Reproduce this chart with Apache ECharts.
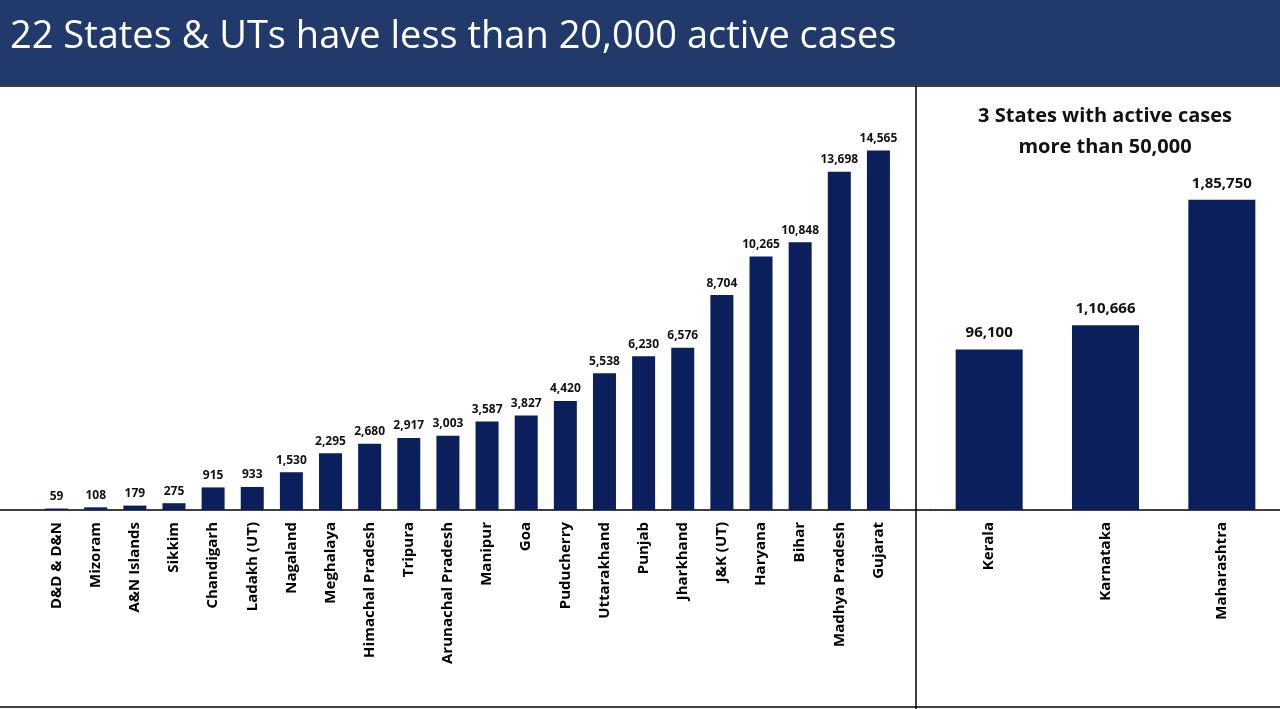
<!DOCTYPE html>
<html>
<head>
<meta charset="utf-8">
<script src="https://cdn.jsdelivr.net/npm/echarts@6/dist/echarts.min.js"></script>
<style>
  html, body { margin: 0; padding: 0; background: #fff; }
  #main { width: 1280px; height: 709px; }
</style>
</head>
<body>
<div id="main"></div>
<script>
const smallStates = ['D&D & D&N', 'Mizoram', 'A&N Islands', 'Sikkim', 'Chandigarh', 'Ladakh (UT)', 'Nagaland',
  'Meghalaya', 'Himachal Pradesh', 'Tripura', 'Arunachal Pradesh', 'Manipur', 'Goa', 'Puducherry',
  'Uttarakhand', 'Punjab', 'Jharkhand', 'J&K (UT)', 'Haryana', 'Bihar', 'Madhya Pradesh', 'Gujarat'];
const smallCases = [59, 108, 179, 275, 915, 933, 1530, 2295, 2680, 2917, 3003, 3587, 3827, 4420,
  5538, 6230, 6576, 8704, 10265, 10848, 13698, 14565];
const bigStates = ['Kerala', 'Karnataka', 'Maharashtra'];
const bigCases = [96100, 110666, 185750];

const navy = '#0b1f5c';
const font = '"Open Sans", "DejaVu Sans", sans-serif';

// Indian digit grouping, e.g. 1,85,750
function inr(v) {
  let s = String(v);
  if (s.length <= 3) return s;
  let last = s.slice(-3), rest = s.slice(0, -3);
  rest = rest.replace(/\B(?=(\d{2})+(?!\d))/g, ',');
  return rest + ',' + last;
}

const catAxis = {
  type: 'category',
  axisLine: { lineStyle: { color: '#000', width: 1.5 } },
  axisTick: { show: false },
  axisLabel: { rotate: 90, color: '#000', fontWeight: 'bold', fontSize: 15, fontFamily: font, margin: 12 }
};

let option = {
  animation: false,
  title: {
    text: '3 States with active cases\nmore than 50,000',
    left: 1100, top: 96, textAlign: 'center',
    textStyle: { fontSize: 20, fontWeight: 'bold', color: '#111', fontFamily: font, lineHeight: 31 }
  },
  grid: [
    { left: 37, width: 861, top: 115, height: 395 },
    { left: 931, width: 354, top: 176, height: 334 }
  ],
  xAxis: [
    Object.assign({ gridIndex: 0, data: smallStates }, catAxis),
    Object.assign({ gridIndex: 1, data: bigStates }, catAxis)
  ],
  yAxis: [
    { gridIndex: 0, type: 'value', min: 0, max: 16000, show: false, splitLine: { show: false } },
    { gridIndex: 1, type: 'value', min: 0, max: 200000, show: false, splitLine: { show: false } }
  ],
  series: [
    {
      type: 'bar', xAxisIndex: 0, yAxisIndex: 0, data: smallCases, barWidth: 23,
      itemStyle: { color: navy },
      label: { show: true, position: 'top', distance: 6, color: '#111', fontWeight: 'bold', fontSize: 12,
        fontFamily: font, formatter: p => inr(p.value) }
    },
    {
      type: 'bar', xAxisIndex: 1, yAxisIndex: 1, data: bigCases, barWidth: 67,
      itemStyle: { color: navy },
      label: { show: true, position: 'top', distance: 9, color: '#111', fontWeight: 'bold', fontSize: 15,
        fontFamily: font, formatter: p => inr(p.value) }
    }
  ],
  graphic: [
    { type: 'rect', shape: { x: 0, y: 0, width: 1280, height: 85 }, style: { fill: '#213a6b' } },
    { type: 'text', left: 10, top: 18, style: { text: '22 States & UTs have less than 20,000 active cases',
      fill: '#fff', fontSize: 38, fontFamily: font } },
    { type: 'line', shape: { x1: 0, y1: 86, x2: 1280, y2: 86 }, style: { stroke: '#000', lineWidth: 1.5 } },
    { type: 'line', shape: { x1: 916, y1: 86, x2: 916, y2: 709 }, style: { stroke: '#000', lineWidth: 1.5 } },
    { type: 'line', shape: { x1: 0, y1: 510, x2: 37, y2: 510 }, style: { stroke: '#000', lineWidth: 1.5 } },
    { type: 'line', shape: { x1: 898, y1: 510, x2: 916, y2: 510 }, style: { stroke: '#000', lineWidth: 1.5 } },
    { type: 'line', shape: { x1: 916, y1: 510, x2: 931, y2: 510 }, style: { stroke: '#000', lineWidth: 1.5 } },
    { type: 'line', shape: { x1: 0, y1: 707, x2: 1280, y2: 707 }, style: { stroke: '#000', lineWidth: 1.5 } }
  ]
};

let myChart = echarts.init(document.getElementById('main'));
myChart.setOption(option);
</script>
</body>
</html>
